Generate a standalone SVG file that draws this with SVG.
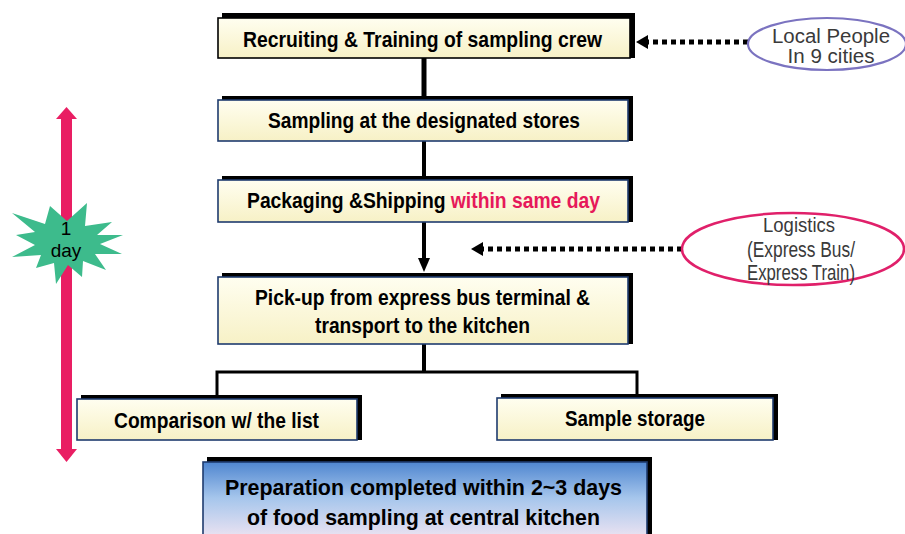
<svg xmlns="http://www.w3.org/2000/svg" width="905" height="534" viewBox="0 0 905 534">
  <defs>
    <linearGradient id="cream" x1="0" y1="0" x2="0" y2="1">
      <stop offset="0" stop-color="#fffef0"/>
      <stop offset="1" stop-color="#f7f1c6"/>
    </linearGradient>
    <linearGradient id="sky" x1="0" y1="0" x2="0" y2="1">
      <stop offset="0" stop-color="#4f86d0"/>
      <stop offset="0.45" stop-color="#a6c6ec"/>
      <stop offset="1" stop-color="#f4e6f2"/>
    </linearGradient>
  </defs>
  <style>
    .shadow { fill: #000; }
    .box { fill: url(#cream); stroke: #1f3b6e; stroke-width: 1.6; }
    .box.dark { stroke: #000; }
    .final { fill: url(#sky); stroke: #1f3b6e; stroke-width: 1.6; }
    .lbl { font-family: "Liberation Sans", Arial, sans-serif; font-weight: bold; font-size: 22px; fill: #000; }
    .red { fill: #e6195a; }
    .side { font-family: "Liberation Sans", Arial, sans-serif; font-size: 20px; fill: #3a3a3a; text-anchor: middle; }
    .star { font-family: "Liberation Sans", Arial, sans-serif; font-size: 19px; fill: #000; text-anchor: middle; }
    .line { stroke: #000; fill: none; }
    .dots { stroke: #000; stroke-width: 5; stroke-dasharray: 5 4; fill: none; }
  </style>

  <!-- connectors -->
  <g id="connectors">
    <line class="line" x1="424" y1="58" x2="424" y2="100" stroke-width="5"/>
    <line class="line" x1="424" y1="141" x2="424" y2="180" stroke-width="4"/>
    <line class="line" x1="424" y1="222" x2="424" y2="260" stroke-width="4"/>
    <polygon points="418,258 430,258 424,272" fill="#000"/>
    <line class="line" x1="424" y1="344" x2="424" y2="372" stroke-width="4"/>
    <polyline class="line" points="217,398 217,372 637,372 637,398" stroke-width="3"/>
    <!-- dotted feeds -->
    <line class="dots" x1="748" y1="42" x2="648" y2="42"/>
    <polygon points="636,42 648,35 648,49" fill="#000"/>
    <line class="dots" x1="682" y1="249" x2="483" y2="249"/>
    <polygon points="471,249 483,242 483,256" fill="#000"/>
  </g>

  <!-- time span bar -->
  <g id="day-span">
    <rect x="61" y="117" width="11" height="334" fill="#e91e63"/>
    <polygon points="56,119 77,119 66.5,107" fill="#e91e63"/>
    <polygon points="56,449 77,449 66.5,462" fill="#e91e63"/>
  </g>

  <g id="one-day">
    <polygon fill="#3dbb8c" points="12,213 45,224 50,206 67,221 87,203 85,226 112,222 97,235 123,235 100,244 122,254 95,254 106,270 83,261 82,277 68,265 56,284 54,263 36,268 41,255 12,257 35,245 16,235 35,232"/>
    <text class="star" x="66" y="235">1</text>
    <text class="star" x="66" y="257">day</text>
  </g>

  <g id="recruiting">
    <rect class="shadow" x="222" y="13" width="413" height="45"/>
    <rect class="box dark" x="218" y="18" width="412" height="40"/>
    <text class="lbl" x="243" y="47" textLength="359" lengthAdjust="spacingAndGlyphs">Recruiting &amp; Training of sampling crew</text>
  </g>

  <g id="sampling">
    <rect class="shadow" x="222" y="96" width="411" height="45"/>
    <rect class="box" x="218" y="100" width="410" height="41"/>
    <text class="lbl" x="268" y="128" textLength="312" lengthAdjust="spacingAndGlyphs">Sampling at the designated stores</text>
  </g>

  <g id="packaging">
    <rect class="shadow" x="222" y="176" width="411" height="46"/>
    <rect class="box" x="218" y="180" width="410" height="42"/>
    <text class="lbl" x="247" y="208" textLength="353" lengthAdjust="spacingAndGlyphs">Packaging &amp;Shipping <tspan class="red">within same day</tspan></text>
  </g>

  <g id="pickup">
    <rect class="shadow" x="222" y="273" width="411" height="71"/>
    <rect class="box" x="218" y="277" width="410" height="67"/>
    <text class="lbl" x="255" y="305" textLength="335" lengthAdjust="spacingAndGlyphs">Pick-up from express bus terminal &amp;</text>
    <text class="lbl" x="315" y="333" textLength="215" lengthAdjust="spacingAndGlyphs">transport to the kitchen</text>
  </g>

  <g id="comparison">
    <rect class="shadow" x="81" y="395" width="281" height="45"/>
    <rect class="box" x="77" y="399" width="280" height="41"/>
    <text class="lbl" x="114" y="428" textLength="205" lengthAdjust="spacingAndGlyphs">Comparison w/ the list</text>
  </g>

  <g id="storage">
    <rect class="shadow" x="501" y="394" width="277" height="46"/>
    <rect class="box" x="497" y="398" width="276" height="42"/>
    <text class="lbl" x="565" y="426" textLength="140" lengthAdjust="spacingAndGlyphs">Sample storage</text>
  </g>

  <g id="preparation">
    <rect class="shadow" x="207" y="457" width="445" height="85"/>
    <rect class="final" x="203" y="462" width="444" height="80"/>
    <text class="lbl" x="225" y="495" textLength="397" lengthAdjust="spacingAndGlyphs">Preparation completed within 2~3 days</text>
    <text class="lbl" x="247" y="525" textLength="353" lengthAdjust="spacingAndGlyphs">of food sampling at central kitchen</text>
  </g>

  <g id="local-people">
    <ellipse cx="827" cy="44" rx="79" ry="26" fill="#fff" stroke="#7b73c0" stroke-width="2.2"/>
    <text class="side" x="831" y="43" textLength="118" lengthAdjust="spacingAndGlyphs">Local People</text>
    <text class="side" x="831" y="63" textLength="87" lengthAdjust="spacingAndGlyphs">In 9 cities</text>
  </g>

  <g id="logistics">
    <ellipse cx="793" cy="249" rx="111" ry="36" fill="#fff" stroke="#e0206a" stroke-width="2.5"/>
    <text class="side" x="799" y="232" font-size="20" style="font-size:20px" textLength="72" lengthAdjust="spacingAndGlyphs">Logistics</text>
    <text class="side" x="801" y="257" style="font-size:22px" textLength="108" lengthAdjust="spacingAndGlyphs">(Express Bus/</text>
    <text class="side" x="801" y="280" style="font-size:22px" textLength="108" lengthAdjust="spacingAndGlyphs">Express Train)</text>
  </g>
</svg>
